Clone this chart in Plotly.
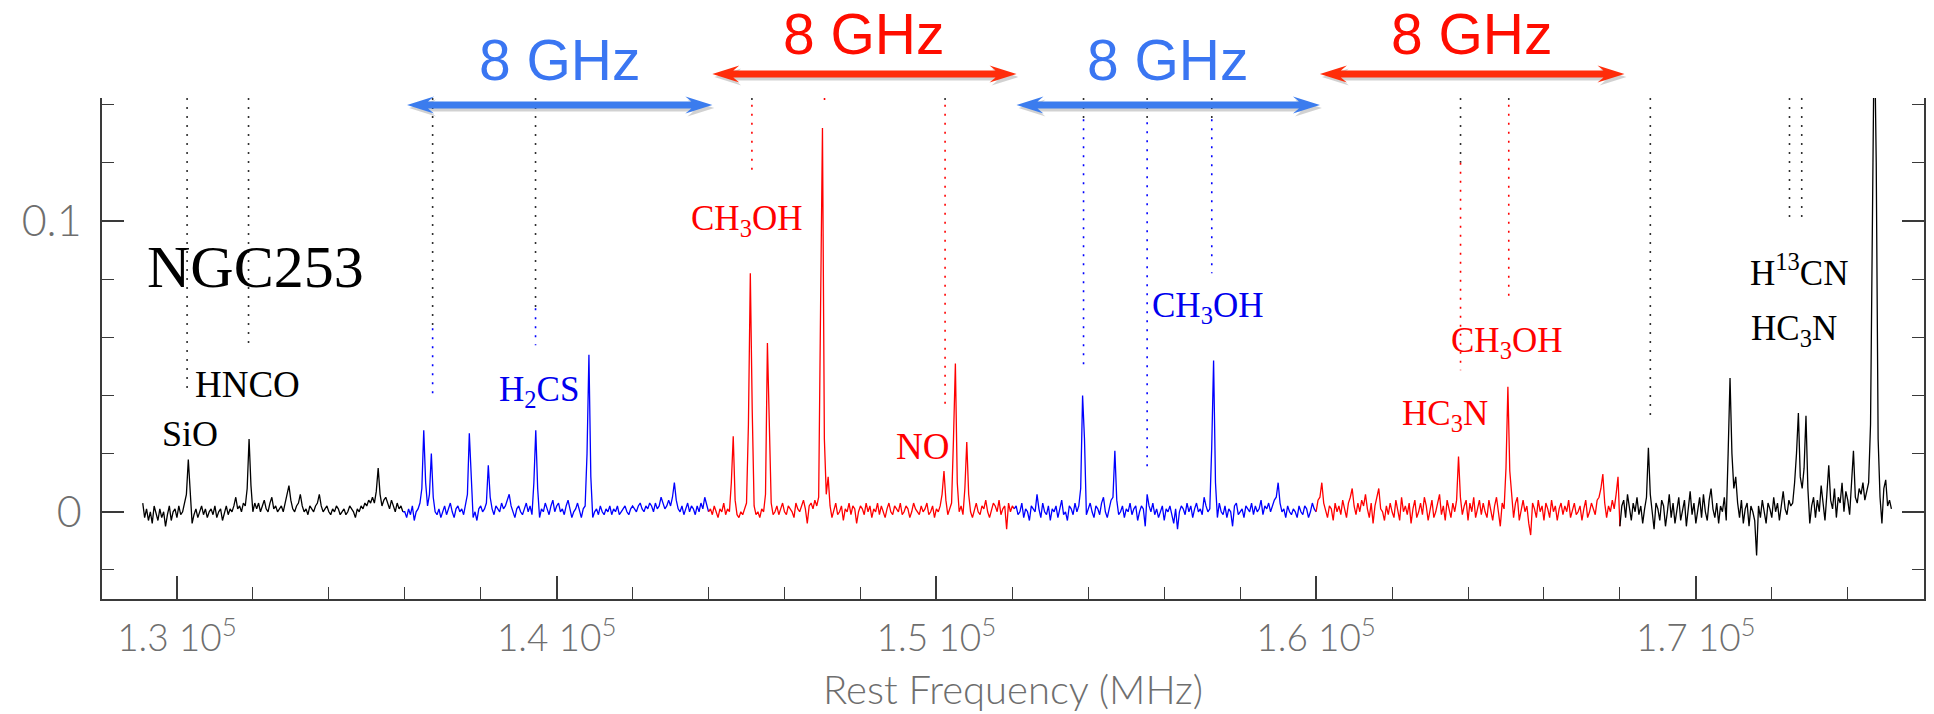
import numpy as np
import plotly.graph_objects as go

# ---------------- data ----------------
STEP_MHZ = 50  # channel spacing of the typed spectrum (MHz)

# antenna temperature in mK, one list per colour segment
black1_start = 129100
black1_mK = [3, -2, 1, -3, 0, -4, 2, -1, -3, 1,
             -2, 0, -5, -1, 2, -3, 0, 1, -2, 2,
             -1, 0, 3, 6, 18, 5, -4, -1, 1, -2,
             0, 2, -1, 1, -2, 0, 1, -1, 2, -2,
             0, 1, -3, 0, 2, -1, 1, 0, 2, 5,
             1, 2, 0, 3, 2, 8, 25, 9, 0, 3,
             1, 3, 0, 2, 4, 1, 0, 3, 5, 1,
             2, 0, 1, 2, 0, 3, 5, 9, 4, 1,
             0, 2, 3, 6, 2, 0, 1, -1, 2, 1,
             0, 2, 3, 6, 2, 0, 1, 2, 0, -1,
             1, 0, 2, 1, -1, 0, 1, -1, 0, 2,
             1, 0, -2, 1, 0, 2, 1, 3, 2, 4,
             3, 5, 3, 7, 15, 6, 2, 4, 5, 3,
             1, 4, 2, 0, 3, 1, 2, 0]

blue1_start = 136000
blue1_mK = [0, -2, 1, -1, 2, -3, 0, 1, 3, 8,
            28, 10, 2, 6, 20, 5, 0, -1, 1, -2,
            0, 2, -1, 1, 3, 0, -2, 1, 2, 0,
            1, -1, 2, 6, 27, 10, -2, 0, -3, 1,
            2, 0, 1, 3, 16, 5, 1, -1, 2, 1,
            0, 3, 1, 2, 4, 6, 2, 0, -2, 1,
            2, 0, -1, 1, 3, 0, 2, -1, 10, 28,
            8, -2, 1, 0, 3, 1, -1, 2, 4, 0,
            2, 3, 0, 1, -1, 2, 4, 1, -2, 0,
            1, 3, 0, -2, 1, 2, 20, 54, 12, -2,
            0, 1, -1, 2, 0, -1, 1, 0, 2, -1,
            1, 0, 2, -1, 0, 1, 2, 0, -1, 1,
            2, 1, 0, 2, 3, 1, 0, 2, 1, 3,
            2, 0, 3, 1, 2, 5, 3, 1, 2, 4,
            2, 5, 10, 4, 1, 0, 2, -1, 1, 3,
            0, 2, 1, -1, 2, 0, 3, 1, 5, 2,
            0]

red1_start = 144050
red1_mK = [1, -1, 2, 0, -2, 1, 0, 3, -1, 1,
           0, 10, 26, 4, -1, -2, 0, -1, 1, 3,
           30, 82, 35, 2, -1, 0, -2, 1, 0, 6,
           58, 28, 3, -1, 0, 2, -1, 1, 3, 0,
           -1, 2, 1, 0, -2, 3, 1, 0, 2, 4,
           1, -4, 2, 3, 1, 4, 2, 5, 70, 132,
           25, 6, 12, 2, -2, 1, 3, -1, 0, 2,
           -3, 1, 0, 3, -1, 2, 1, -4, 0, 2,
           1, -1, 3, 0, 2, -2, 1, 0, 3, -1,
           2, 0, -2, 1, 3, 0, -1, 2, 1, 0,
           3, -1, 0, 2, 1, -2, 0, 3, 1, 0,
           -1, 2, 0, 1, 3, -1, 0, 2, -2, 1,
           0, 2, 6, 14, 4, -1, 1, 3, 25, 51,
           10, 0, 2, -1, 8, 24, 6, 0, -2, 1,
           3, 0, -1, 2, 1, 4, 0, -2, 1, 3,
           2, 0, 4, -1, 1, 2, -6, 3, 0, 2,
           1]

blue2_start = 152100
blue2_mK = [2, -1, 0, 3, -2, 1, 0, -3, 2, 1,
            0, 6, 1, -2, 3, 0, -1, 2, -3, 1,
            0, 2, -2, 1, 4, -1, 0, -3, 2, 1,
            -1, 3, 0, 2, 8, 40, 25, -1, 1, 3,
            0, -2, 2, 1, -1, 3, 5, 0, -2, 1,
            4, 5, 21, 4, -1, 0, 2, -2, 1, 0,
            3, -1, 1, 2, -3, 0, 2, 1, -5, 6,
            2, 0, 3, -1, 1, -2, 0, 2, -3, 1,
            0, 2, -1, -4, 1, -6, 0, 2, 1, -1,
            3, 0, 2, -2, 1, 3, 0, 1, -1, 5,
            2, 0, 1, 22, 52, 10, -2, 3, 0, -1,
            2, -2, 1, 0, -5, 2, 3, -1, 0, 1,
            -2, 2, 1, 0, 3, -1, 2, 0, 1, 4,
            -1, 2, 1, 3, 0, 2, 4, 5, 10, 3,
            0, 1, -2, 2, 0, -1, 1, 0, -2, 2,
            0, -1, 2, 1, -2, 0, 3, 1, 0]

red2_start = 160050
red2_mK = [4, 5, 10, 3, 0, -2, 2, 1, -3, 3,
           0, 2, -1, 4, 1, -2, 3, 5, 8, 2,
           -1, 3, 0, 4, 2, 6, 1, -2, 3, -4,
           2, 5, 8, 1, 0, -3, 2, -1, 3, 0,
           -2, 4, 1, -3, 5, 0, 2, -1, 3, -4,
           1, 4, -2, 0, 3, -1, 5, 2, -3, 1,
           4, -2, 0, 3, 6, -1, 2, -3, 4, 1,
           -2, 3, 0, 4, 19, 5, -1, 2, 4, -3,
           3, 0, 5, -2, 1, 4, -1, 3, 0, -2,
           4, 1, -3, 2, 5, 0, -5, 3, 1, 15,
           43, 14, 6, -2, 3, 5, -3, 1, 4, 0,
           2, -4, -8, 3, 1, -2, 4, 0, 2, -3,
           3, 1, -2, 4, 0, 2, -3, 1, 3, -1,
           2, 0, 4, -2, 1, 3, -1, 0, 2, -3,
           1, 4, -2, 0, 3, 1, -1, 4, 5, 8,
           13, 3, -2, 2, 0, 4, 1, 6, 12, -5]

black2_start = 168050
black2_mK = [2, 4, -2, 6, 1, -3, 3, 0, 5, -1,
             2, -4, 1, 5, 22, 6, 0, -6, 3, 1,
             -3, 4, 2, -5, 0, 6, -2, 3, -4, 1,
             5, -3, 0, 4, -5, 2, 7, -1, 3, -4,
             1, 5, -2, 6, 0, -3, 4, 8, 1, -2,
             3, -4, 2, 0, 5, -3, 20, 46, 20, 8,
             12, 3, -2, 4, -4, 1, 3, -5, 2, 0,
             -3, -15, 2, -2, 4, 0, -4, 3, 1, -2,
             5, 0, 3, -3, 2, 7, 1, -1, 4, 2,
             3, 10, 20, 34, 12, 8, 15, 33, 8, -4,
             2, 5, -2, 4, 0, 9, 3, -3, 6, 16,
             4, 1, 8, -2, 5, 3, 10, 0, 7, 4,
             -1, 9, 21, 5, 3, 8, 6, 10, 4, 7,
             10, 30, 110, 170, 120, 25, 5, -4, 8, 11,
             2, 4, 1]

BLACK, BLUE, RED = "#000000", "#0000ff", "#ff0000"
segments = [
    (black1_start, black1_mK, BLACK),
    (blue1_start, blue1_mK, BLUE),
    (red1_start, red1_mK, RED),
    (blue2_start, blue2_mK, BLUE),
    (red2_start, red2_mK, RED),
    (black2_start, black2_mK, BLACK),
]

# dotted line markers: frequency (MHz), lower end (K), colour change level (K), colour
marker_freq = [130268, 131886, 136734, 139444, 145142, 147054, 150229,
               153875, 155550, 157252, 163803, 165073, 168801, 172466, 172788]
marker_bottom = [0.0408, 0.0573, 0.0384, 0.0573, 0.1165, 0.1395, 0.0359,
                 0.0487, 0.0150, 0.0820, 0.0487, 0.0738, 0.0322, 0.0993, 0.0993]
marker_split = [0.1423, 0.1423, 0.0631, 0.0700, 0.1400, 0.1423, 0.1400,
                0.1350, 0.1340, 0.1350, 0.1200, 0.1400, 0.1423, 0.1423, 0.1423]
marker_color = [BLACK, BLACK, BLUE, BLUE, RED, RED, RED,
                BLUE, BLUE, BLUE, RED, RED, BLACK, BLACK, BLACK]

# labels: text, freq (MHz), level (K), colour, size
labels = [
    ("NGC253", 132060, 0.0842, BLACK, 60),
    ("HNCO", 131862, 0.0438, BLACK, 37),
    ("SiO", 130337, 0.0269, BLACK, 36),
    ("H<sub>2</sub>CS", 139531, 0.0415, "#0000ee", 35),
    ("CH<sub>3</sub>OH", 145003, 0.1002, RED, 35),
    ("NO", 149632, 0.0226, RED, 37),
    ("CH<sub>3</sub>OH", 157127, 0.0701, "#0000ee", 35),
    ("CH<sub>3</sub>OH", 165019, 0.0583, RED, 35),
    ("HC<sub>3</sub>N", 163403, 0.0331, RED, 35),
    ("H<sup>13</sup>CN", 172728, 0.0830, BLACK, 35),
    ("HC<sub>3</sub>N", 172597, 0.0625, BLACK, 35),
]

# 8 GHz bands (MHz edges), colours
band_edges = [136060, 144100, 152110, 160100, 168120]
band_colors = ["#3b7cee", "#ff2d0a", "#3b7cee", "#ff2d0a"]
band_text_colors = ["#3a76f2", "#ff0d00", "#3a76f2", "#ff0d00"]
band_labels = ["8 GHz", "8 GHz", "8 GHz", "8 GHz"]

X_TICKS = [130000, 140000, 150000, 160000, 170000]
X_TICKTEXT = ["1.3 10<sup>5</sup>", "1.4 10<sup>5</sup>", "1.5 10<sup>5</sup>",
              "1.6 10<sup>5</sup>", "1.7 10<sup>5</sup>"]
Y_TICKS = [0, 0.1]
Y_TICKTEXT = ["0", "0.1"]
X_TITLE = "Rest Frequency (MHz)"

XRANGE = [128027, 176008]
YRANGE = [-0.0300, 0.1423]

# ---------------- figure ----------------
fig = go.Figure()

# dotted markers (upper part dark, lower part in band colour)
for col in [BLACK, BLUE, RED]:
    xs, ys = [], []
    for f, b, s, c in zip(marker_freq, marker_bottom, marker_split, marker_color):
        if c == BLACK:
            if col == BLACK:
                xs += [f, f, None]
                ys += [YRANGE[1], b, None]
        else:
            if col == BLACK and s < YRANGE[1]:
                xs += [f, f, None]
                ys += [YRANGE[1], max(s, b), None]
            if col == c:
                xs += [f, f, None]
                ys += [min(s, YRANGE[1]), b, None]
    fig.add_trace(go.Scatter(x=xs, y=ys, mode="lines", hoverinfo="skip",
                             line=dict(color=col if col != BLACK else "#303030",
                                       width=1.6, dash="2px,7px"),
                             showlegend=False))

prev = None
for start, vals, color in segments:
    f = start + STEP_MHZ * np.arange(len(vals))
    y = np.array(vals, dtype=float) / 1000.0
    if prev is not None:
        f = np.r_[prev[0], f]
        y = np.r_[prev[1], y]
    fig.add_trace(go.Scatter(x=f, y=y, mode="lines", hoverinfo="skip",
                             line=dict(color=color, width=1.3), showlegend=False))
    prev = (f[-1], y[-1])

SERIF = "Liberation Serif, Times New Roman, serif"
for text, fx, ly, col, size in labels:
    fig.add_annotation(x=fx, y=ly, xref="x", yref="y", text=text, showarrow=False,
                       font=dict(family=SERIF, size=size, color=col),
                       xanchor="center", yanchor="middle")

# band arrows
PLOT_TOP, PLOT_BOTTOM = 98, 599
def ypaper(py):
    return (PLOT_BOTTOM - py) / (PLOT_BOTTOM - PLOT_TOP)

MHZ_PER_PX = 1.0 / 0.038015
head_len = 27 * MHZ_PER_PX
notch = 21 * MHZ_PER_PX
half_w = 8.5 / (PLOT_BOTTOM - PLOT_TOP)
shaft_half = 3.4 / (PLOT_BOTTOM - PLOT_TOP)
arrow_py = [105, 74, 105, 74]
text_py = [60, 34, 60, 34]
shapes = []
for i in range(4):
    x0, x1 = band_edges[i], band_edges[i + 1]
    for shadow in (True, False):
        dy = -3.0 / (PLOT_BOTTOM - PLOT_TOP) if shadow else 0.0
        dx = 2 * MHZ_PER_PX if shadow else 0.0
        yc = ypaper(arrow_py[i]) + dy
        col = "rgba(0,0,0,0.18)" if shadow else band_colors[i]
        a, b = x0 + dx, x1 + dx
        path = (f"M{a},{yc} L{a + head_len},{yc + half_w} L{a + notch},{yc + shaft_half} "
                f"L{b - notch},{yc + shaft_half} L{b - head_len},{yc + half_w} L{b},{yc} "
                f"L{b - head_len},{yc - half_w} L{b - notch},{yc - shaft_half} "
                f"L{a + notch},{yc - shaft_half} L{a + head_len},{yc - half_w} Z")
        shapes.append(dict(type="path", xref="x", yref="paper", path=path,
                           fillcolor=col, line=dict(width=0), layer="above"))
    fig.add_annotation(x=(x0 + x1) / 2, y=ypaper(text_py[i]), xref="x", yref="paper",
                       text=band_labels[i], showarrow=False,
                       font=dict(family="Liberation Sans, Arial, sans-serif", size=57,
                                 color=band_text_colors[i]),
                       xanchor="center", yanchor="middle")

# axis title as a paper annotation (exact placement)
LIGHT = "Lato, Liberation Sans, sans-serif"
GRAY = "#6e6e6e"
fig.add_annotation(x=0.5, y=ypaper(689), xref="paper", yref="paper", text=X_TITLE,
                   showarrow=False, xanchor="center", yanchor="middle",
                   font=dict(family=LIGHT, size=40, color=GRAY, weight=300))

AXC = "#3a3a3a"
minor_x = [v for v in range(128000, 176001, 2000) if v not in X_TICKS]
minor_y = [-0.02, 0.02, 0.04, 0.06, 0.08, 0.12, 0.14]

fig.update_layout(
    width=1934, height=714,
    margin=dict(l=102, r=8, t=PLOT_TOP, b=714 - PLOT_BOTTOM),
    paper_bgcolor="white", plot_bgcolor="white",
    shapes=shapes,
    xaxis=dict(range=XRANGE, showgrid=False, zeroline=False,
               showline=True, linecolor=AXC, linewidth=1.6, mirror=False,
               tickmode="array", tickvals=X_TICKS, ticktext=X_TICKTEXT,
               ticks="inside", ticklen=23, tickwidth=1.6, tickcolor=AXC,
               tickfont=dict(family=LIGHT, size=37, color=GRAY, weight=300),
               ticklabelstandoff=6,
               minor=dict(tickmode="array", tickvals=minor_x, ticks="inside",
                          ticklen=12, tickwidth=1.4, tickcolor=AXC, showgrid=False)),
    yaxis=dict(range=YRANGE, showgrid=False, zeroline=False,
               showline=True, linecolor=AXC, linewidth=1.6, mirror="ticks",
               tickmode="array", tickvals=Y_TICKS, ticktext=Y_TICKTEXT,
               ticks="inside", ticklen=22, tickwidth=1.6, tickcolor=AXC,
               tickfont=dict(family=LIGHT, size=43, color=GRAY, weight=300),
               ticklabelstandoff=10,
               minor=dict(tickmode="array", tickvals=minor_y, ticks="inside",
                          ticklen=12, tickwidth=1.4, tickcolor=AXC, showgrid=False)),
)

fig.write_html("out.html")
